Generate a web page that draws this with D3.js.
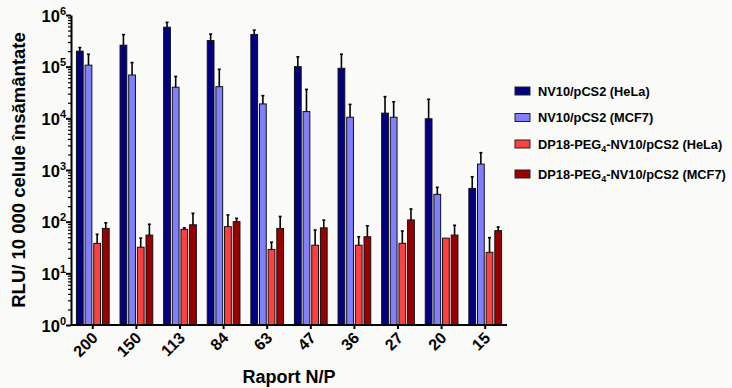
<!DOCTYPE html>
<html>
<head>
<meta charset="utf-8">
<script src="https://cdn.jsdelivr.net/npm/d3@7"></script>
<style>
  body { margin: 0; background: #fafaf8; }
  svg { font-family: "Liberation Sans", Arial, sans-serif; font-weight: bold; }
</style>
</head>
<body>
<div id="chart"></div>
<script>
const ratios = ['200', '150', '113', '84', '63', '47', '36', '27', '20', '15']

const series = ['helaNV', 'mcfNV', 'helaDP', 'mcfDP']
const seriesColors = ['#000080', '#8080ff', '#ff4040', '#990000']

// mean values
const helaNV = [2.0e5, 2.6e5, 5.8e5, 3.2e5, 4.2e5, 1.0e5, 9.3e4, 1.26e4, 9.8e3, 440]
const mcfNV = [1.07e5, 6.9e4, 4.0e4, 4.1e4, 1.9e4, 1.35e4, 1.05e4, 1.05e4, 338, 1300]
const helaDP = [38, 32, 71, 80, 29, 35, 35, 38, 48, 25.5]
const mcfDP = [74, 55, 87, 100, 74, 76, 51, 108, 55, 67]

// upper error (SD)
const helaNVErr = [3.4e4, 1.57e5, 1.4e5, 1.07e5, 9e4, 5.5e4, 8.1e4, 1.37e4, 1.36e4, 300]
const mcfNVErr = [6.7e4, 5.1e4, 2.46e4, 4.8e4, 8.5e3, 2.28e4, 8.1e3, 1.04e4, 124, 860]
const helaDPErr = [19, 16, 5, 55, 11, 34, 16, 28, 0, 23.5]
const mcfDPErr = [21, 34, 58, 16, 52, 31, 32, 68, 30, 12]

const yTicks = [1, 10, 100, 1000, 1e4, 1e5, 1e6]

const values = {helaNV, mcfNV, helaDP, mcfDP}
const errors = {helaNV: helaNVErr, mcfNV: mcfNVErr, helaDP: helaDPErr, mcfDP: mcfDPErr}

const w = 732
const h = 388
const margin = {top: 15, right: 225, bottom: 63, left: 71}

const svg = d3.select('#chart')
    .append('svg')
    .attr('width', w)
    .attr('height', h)

const x0 = d3.scaleBand()
    .domain(ratios)
    .range([margin.left, w - margin.right])
    .paddingInner(0.25)
    .paddingOuter(0.125)

const x1 = d3.scaleBand()
    .domain(series)
    .range([0, x0.bandwidth()])
    .paddingInner(0.22)

const y = d3.scaleLog()
    .domain([1, 1e6])
    .range([h - margin.bottom, margin.top])

const color = d3.scaleOrdinal().domain(series).range(seriesColors)

const rows = []
ratios.forEach((r, i) => {
    series.forEach(s => {
        rows.push({ratio: r, key: s, value: values[s][i], err: errors[s][i]})
    })
})

// bars
svg.append('g')
    .selectAll('rect')
    .data(rows)
    .enter()
    .append('rect')
    .attr('x', d => x0(d.ratio) + x1(d.key))
    .attr('y', d => y(d.value))
    .attr('width', x1.bandwidth())
    .attr('height', d => y(1) - y(d.value))
    .attr('fill', d => color(d.key))
    .attr('stroke', '#111')
    .attr('stroke-width', 1)

// error bars (upper only)
const errG = svg.append('g')
    .selectAll('g')
    .data(rows.filter(d => d.err > 0))
    .enter()
    .append('g')
    .attr('stroke', '#000')
    .attr('stroke-width', 1.6)

errG.append('line')
    .attr('x1', d => x0(d.ratio) + x1(d.key) + x1.bandwidth() / 2)
    .attr('x2', d => x0(d.ratio) + x1(d.key) + x1.bandwidth() / 2)
    .attr('y1', d => y(d.value))
    .attr('y2', d => y(d.value + d.err))

errG.append('line')
    .attr('x1', d => x0(d.ratio) + x1(d.key) + x1.bandwidth() / 2 - 1.5)
    .attr('x2', d => x0(d.ratio) + x1(d.key) + x1.bandwidth() / 2 + 1.5)
    .attr('y1', d => y(d.value + d.err))
    .attr('y2', d => y(d.value + d.err))

// y axis minor ticks
const minor = []
for (let e = 0; e < 6; e++) {
    for (let k = 2; k < 10; k++) minor.push(k * Math.pow(10, e))
}
svg.append('g')
    .attr('transform', `translate(${margin.left},0)`)
    .call(d3.axisLeft(y).tickValues(minor).tickSize(3).tickFormat(''))
    .call(g => g.select('.domain').remove())
    .selectAll('line').attr('stroke-width', 1.2)

const yAxis = svg.append('g')
    .attr('transform', `translate(${margin.left},0)`)
    .call(d3.axisLeft(y).tickValues(yTicks).tickSize(5).tickSizeOuter(0).tickPadding(6).tickFormat(''))

yAxis.select('.domain').attr('stroke-width', 2)
yAxis.selectAll('line').attr('stroke-width', 2)

yAxis.selectAll('.tick').each(function (d) {
    const t = d3.select(this).append('text')
        .attr('x', -5)
        .attr('y', 6)
        .attr('fill', '#000')
        .attr('text-anchor', 'end')
        .style('font-size', '16.5px')
    t.append('tspan').text('10')
    t.append('tspan')
        .attr('dy', -7)
        .style('font-size', '11px')
        .text(Math.round(Math.log10(d)))
})

// x axis
const xAxis = svg.append('g')
    .attr('transform', `translate(0,${h - margin.bottom})`)
    .call(d3.axisBottom(x0).tickSize(4).tickSizeOuter(0))

xAxis.select('.domain').attr('stroke-width', 2)
    .attr('d', `M${margin.left},0H${w - margin.right}`)
xAxis.selectAll('line').attr('stroke-width', 2)
xAxis.selectAll('text')
    .style('font-size', '16px')
    .attr('fill', '#000')
    .attr('text-anchor', 'end')
    .attr('dx', 0)
    .attr('dy', 0)
    .attr('y', 0)
    .attr('transform', 'translate(6,14) rotate(-45)')

// axis titles
svg.append('text')
    .attr('x', (margin.left + w - margin.right) / 2)
    .attr('y', h - 5)
    .attr('text-anchor', 'middle')
    .style('font-size', '18px')
    .text('Raport N/P')

svg.append('text')
    .attr('transform', `translate(25,${(margin.top + h - margin.bottom) / 2}) rotate(-90)`)
    .attr('text-anchor', 'middle')
    .style('font-size', '18.5px')
    .text('RLU/ 10 000 celule însământate')

// legend
const legendItems = [
    ['NV10/pCS2 (HeLa)'],
    ['NV10/pCS2 (MCF7)'],
    ['DP18-PEG', '4', '-NV10/pCS2 (HeLa)'],
    ['DP18-PEG', '4', '-NV10/pCS2 (MCF7)']
]
const legendY = [91, 117.5, 144, 174]

const legend = svg.append('g')
    .selectAll('g')
    .data(legendItems)
    .enter()
    .append('g')
    .attr('transform', (d, i) => `translate(515,${legendY[i]})`)

legend.append('rect')
    .attr('x', 0)
    .attr('y', -4)
    .attr('width', 15)
    .attr('height', 8)
    .attr('fill', (d, i) => seriesColors[i])
    .attr('stroke', '#222')
    .attr('stroke-width', 1)

legend.append('text')
    .attr('x', 23)
    .attr('y', 4.5)
    .style('font-size', '12.8px')
    .each(function (d) {
        const t = d3.select(this)
        t.append('tspan').text(d[0])
        if (d.length > 1) {
            t.append('tspan').attr('dy', 3).style('font-size', '9px').text(d[1])
            t.append('tspan').attr('dy', -3).text(d[2])
        }
    })
</script>
</body>
</html>
